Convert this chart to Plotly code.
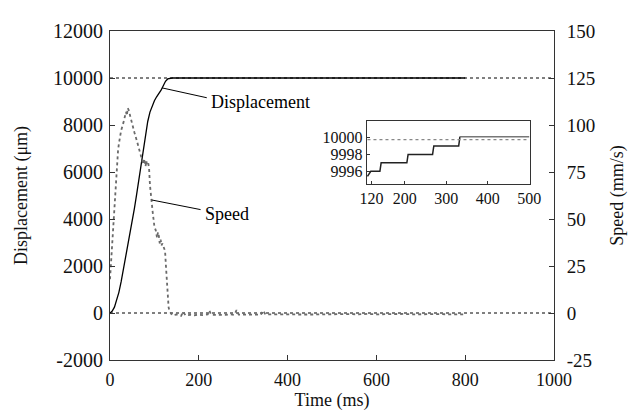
import plotly.graph_objects as go

# ---- Data ----
disp_time = [0, 5, 10, 15, 20, 25, 30, 35, 40, 45, 50, 55, 60, 65, 70, 75, 80, 85, 90, 95,
             100, 105, 110, 115, 120, 125, 130, 135, 140, 800]
disp_um = [0, 80, 250, 520, 880, 1320, 1820, 2380, 2850, 3300, 3850, 4450, 5050, 5650, 6300,
           6950, 7600, 8150, 8550, 8820, 9030, 9200, 9330, 9480, 9670, 9860, 9960, 9994, 10000, 10000]

speed_time = [0, 2, 5, 8, 10, 12, 15, 18, 20, 25, 30, 33, 36, 38, 40, 42, 44, 46, 50, 55, 60,
              65, 70, 73, 75, 77, 78, 80, 82, 83, 86, 88, 90, 92, 94, 96, 98, 100, 103, 105,
              106, 108, 110, 112, 114, 116, 118, 121, 124, 126, 128, 130, 132, 134, 136,
              140, 150, 160, 165, 170, 180, 190, 200, 210, 220, 224, 228, 240, 250, 260, 270,
              280, 285, 290, 300, 310, 320, 330, 340, 345, 350, 360, 380, 400, 420, 440, 460,
              480, 500, 520, 540, 560, 580, 600, 620, 640, 660, 680, 700, 720, 740, 760, 780, 800]
speed_mms = [18, 26, 40, 52, 60, 64, 74, 86, 90, 97, 101, 104, 107, 105, 109, 108, 106, 104,
             100, 96, 92, 88, 84, 82, 79, 82, 80, 78, 81, 79, 80, 77, 68, 62, 58, 54, 50, 46,
             44, 42, 40, 43, 41, 37, 39, 36, 37, 35, 33, 25, 16, 8, 3, 1, 0,
             -1.2, -0.8, -1.5, 0.6, -1.3, -1.0, -1.2, -0.9, -1.1, -0.8, 1.2, -1.0, -1.1, -0.9,
             -1.0, -0.7, -1.0, 1.5, -0.9, -0.8, -0.9, -0.7, -0.8, -0.9, 1.3, -0.8, -0.7, -0.9,
             -0.7, -0.8, -0.6, -0.8, -0.7, -0.6, -0.8, -0.6, -0.7, -0.5, -0.7, -0.6, -0.8, -0.5,
             -0.7, -0.6, -0.8, -0.6, -0.7, -0.6, -0.7]

inset_time = [110, 118, 140, 143, 205, 208, 267, 270, 330, 333, 500]
inset_um = [9995.4, 9996, 9996, 9997, 9997, 9998, 9998, 9999, 9999, 10000.1, 10000.1]

x_ticks = [0, 200, 400, 600, 800, 1000]
y_ticks = [-2000, 0, 2000, 4000, 6000, 8000, 10000, 12000]
y2_ticks = [-25, 0, 25, 50, 75, 100, 125, 150]
inset_x_ticks = [120, 200, 300, 400, 500]
inset_y_ticks = [9996, 9998, 10000]
target_um = 10000
zero_um = 0

FONT = "Liberation Serif, Times New Roman, serif"
AX = "#333333"
FS = 18

fig = go.Figure()

fig.add_trace(go.Scatter(x=speed_time, y=speed_mms, mode="lines", yaxis="y2",
                         line=dict(color="#6a6a6a", width=1.8, dash="dot"), showlegend=False))
fig.add_trace(go.Scatter(x=disp_time, y=disp_um, mode="lines",
                         line=dict(color="black", width=1.3), showlegend=False))

# inset traces
fig.add_trace(go.Scatter(x=inset_time[:10], y=inset_um[:10], mode="lines", xaxis="x3", yaxis="y3",
                         line=dict(color="#222222", width=1.5), showlegend=False))
fig.add_trace(go.Scatter(x=inset_time[9:], y=inset_um[9:], mode="lines", xaxis="x3", yaxis="y3",
                         line=dict(color="#777777", width=1.5), showlegend=False))
fig.add_trace(go.Scatter(x=[inset_time[0], inset_time[-1]], y=[target_um - 0.25, target_um - 0.25],
                         mode="lines", xaxis="x3", yaxis="y3",
                         line=dict(color="#888888", width=1.2, dash="dot"), showlegend=False))

shapes = []
for yv in (target_um, zero_um):
    shapes.append(dict(type="line", xref="paper", x0=0, x1=1, yref="y", y0=yv, y1=yv,
                       line=dict(color="black", width=1, dash="dot"), layer="below"))
# annotation leader lines
shapes.append(dict(type="line", xref="x", yref="y", x0=117, y0=9580, x1=218, y1=9160,
                   line=dict(color="black", width=1)))
shapes.append(dict(type="line", xref="x", yref="y", x0=94, y0=4810, x1=204, y1=4400,
                   line=dict(color="black", width=1)))

annotations = [
    dict(x=223, y=9000, xref="x", yref="y", text="Displacement", showarrow=False,
         xanchor="left", yanchor="middle", font=dict(family=FONT, size=18, color="black")),
    dict(x=209, y=4200, xref="x", yref="y", text="Speed", showarrow=False,
         xanchor="left", yanchor="middle", font=dict(family=FONT, size=18, color="black")),
]

axis_common = dict(showline=True, linecolor=AX, linewidth=1, ticks="inside", ticklen=5,
                   tickcolor=AX, showgrid=False, zeroline=False)

fig.update_layout(
    width=639, height=416,
    margin=dict(l=100, r=93, t=13, b=64),
    paper_bgcolor="white", plot_bgcolor="white",
    font=dict(family=FONT, size=FS, color="#111"),
    xaxis=dict(range=[0, 1000], tickvals=x_ticks, ticktext=[str(v) for v in x_ticks], mirror=True,
               ticklabelstandoff=3, tickfont=dict(family=FONT, size=18, color="#111"),
               title=dict(text="Time (ms)", font=dict(family=FONT, size=FS), standoff=2),
               **axis_common),
    yaxis=dict(range=[-2000, 12000], tickvals=y_ticks, ticktext=[str(v) for v in y_ticks],
               ticklabelstandoff=2, tickfont=dict(family=FONT, size=20, color="#111"),
               title=dict(text="Displacement (μm)", font=dict(family=FONT, size=FS), standoff=20),
               **axis_common),
    yaxis2=dict(range=[-25, 150], tickvals=y2_ticks, ticktext=[str(v) for v in y2_ticks],
                overlaying="y", side="right", ticklabelstandoff=8,
                tickfont=dict(family=FONT, size=19, color="#111"),
                title=dict(text="Speed (mm/s)", font=dict(family=FONT, size=FS), standoff=16),
                **axis_common),
    xaxis3=dict(domain=[0.578, 0.946], anchor="y3", range=[108, 502], tickvals=inset_x_ticks,
                ticktext=[str(v) for v in inset_x_ticks],
                showline=True, mirror=True, linecolor=AX, linewidth=1, ticks="inside", ticklen=3,
                tickcolor=AX, showgrid=False, zeroline=False,
                tickfont=dict(family=FONT, size=16, color="#111")),
    yaxis3=dict(domain=[0.535, 0.725], anchor="x3", range=[9994.5, 10001.9], tickvals=inset_y_ticks,
                ticktext=[str(v) for v in inset_y_ticks],
                showline=True, mirror=True, linecolor=AX, linewidth=1, ticks="inside", ticklen=3,
                tickcolor=AX, showgrid=False, zeroline=False,
                tickfont=dict(family=FONT, size=16, color="#111")),
    shapes=shapes,
    annotations=annotations,
)

fig.write_html("out.html")
